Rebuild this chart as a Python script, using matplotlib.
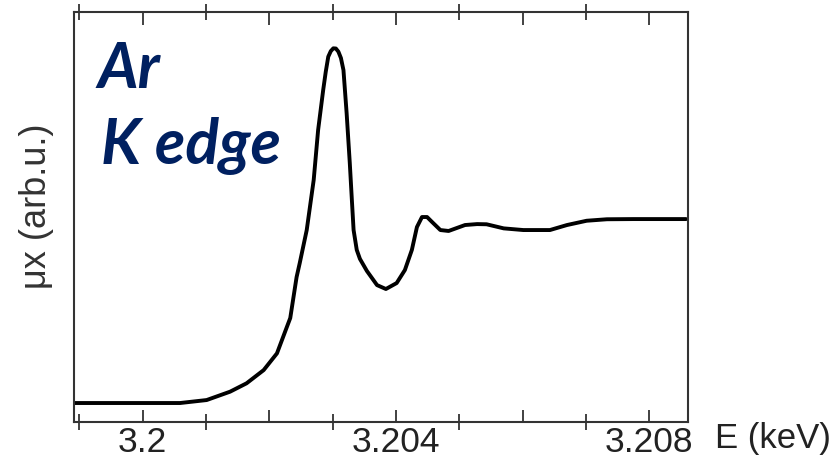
import matplotlib as mpl
mpl.use("Agg")
import matplotlib.pyplot as plt
import numpy as np
from matplotlib.ticker import FixedLocator, FuncFormatter

mpl.rcParams.update({
    "font.family": ["Liberation Sans", "DejaVu Sans"],
    "font.size": 26,
})

# --- Ar K-edge absorption spectrum ---
energy_kev = [
    3.19893, 3.19964, 3.20059, 3.20101, 3.20138, 3.20164, 3.20191, 3.20212,
    3.20227, 3.20233, 3.20243, 3.20248, 3.20259, 3.20270, 3.20277, 3.20285,
    3.20289, 3.20293, 3.20297, 3.20301, 3.20305, 3.20309, 3.20313, 3.20317,
    3.20322, 3.20327, 3.20330, 3.20333, 3.20338, 3.20343, 3.20354, 3.20370,
    3.20384, 3.20401, 3.20414, 3.20425, 3.20433, 3.20441, 3.20449, 3.20457,
    3.20470, 3.20483, 3.20496, 3.20509, 3.20528, 3.20543, 3.20559, 3.20570,
    3.20601, 3.20643, 3.20670, 3.20701, 3.20733, 3.20775, 3.20858,
]
mu_x = [
    0.000, 0.000, 0.000, 0.016, 0.061, 0.106, 0.177, 0.267,
    0.403, 0.457, 0.677, 0.753, 0.930, 1.199, 1.468, 1.683,
    1.780, 1.862, 1.892, 1.907, 1.906, 1.889, 1.855, 1.790,
    1.559, 1.290, 1.108, 0.930, 0.823, 0.775, 0.710, 0.634,
    0.613, 0.645, 0.715, 0.823, 0.946, 1.000, 1.000, 0.973,
    0.930, 0.925, 0.941, 0.957, 0.962, 0.961, 0.948, 0.939,
    0.930, 0.930, 0.957, 0.980, 0.988, 0.989, 0.989,
]

major_ticks = [3.200, 3.202, 3.204, 3.206, 3.208]
minor_ticks = [3.199, 3.201, 3.203, 3.205, 3.207]
labelled = {3.200: "3.2", 3.204: "3.204", 3.208: "3.208"}

fig = plt.figure(figsize=(8.33, 4.62), dpi=100)
ax = fig.add_axes([0.0892, 0.0872, 0.7367, 0.8875])

ax.plot(energy_kev, mu_x, color="black", linewidth=2.8,
        solid_capstyle="round", solid_joinstyle="round")

ax.set_xlim(3.19892, 3.20861)
ax.set_ylim(-0.1005, 2.104)

for s in ax.spines.values():
    s.set_linewidth(1.5)
    s.set_color("#333333")

ax.xaxis.set_major_locator(FixedLocator(major_ticks))
ax.xaxis.set_minor_locator(FixedLocator(minor_ticks))
ax.xaxis.set_major_formatter(FuncFormatter(
    lambda v, p: labelled.get(round(v, 3), "")))
ax.tick_params(axis="x", which="major", direction="in", length=9, width=1.3,
               color="#333333", top=True, pad=3, labelsize=25.5, labelcolor="#222222")
ax.tick_params(axis="x", which="minor", direction="inout", length=11, width=1.3,
               color="#333333", top=True)
ax.set_yticks([])

ax.set_xlabel("E (keV)", fontsize=25, color="#222222")
ax.xaxis.label.set(ha="left", va="center")
ax.xaxis.set_label_coords(1.044, -0.042)

ax.set_ylabel("\u03bcx (arb.u.)", fontsize=26, color="#333333")
ax.yaxis.label.set(va="center")
ax.yaxis.set_label_coords(-0.062, 0.526)

navy = "#002060"
ax.text(0.0386, 0.814, "Ar", transform=ax.transAxes, fontsize=45,
        family=["Lato", "DejaVu Sans"], weight="bold", style="italic",
        color=navy, ha="left", va="baseline")
ax.text(0.0435, 0.6285, "K edge", transform=ax.transAxes, fontsize=45,
        family=["Lato", "DejaVu Sans"], weight="bold", style="italic",
        color=navy, ha="left", va="baseline")

fig.savefig("out.png", dpi=100)
